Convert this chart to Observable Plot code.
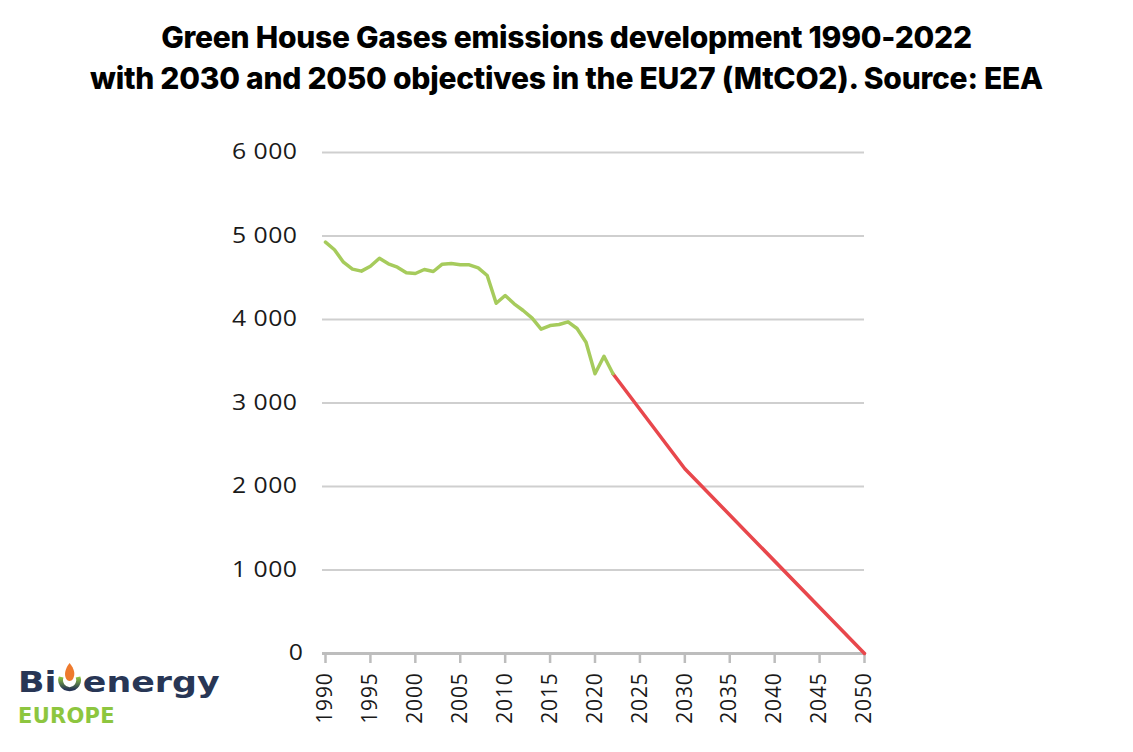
<!DOCTYPE html>
<html>
<head>
<meta charset="utf-8">
<script src="https://cdn.jsdelivr.net/npm/d3@7"></script>
<script src="https://cdn.jsdelivr.net/npm/@observablehq/plot@0.6"></script>
<style>
  html, body { margin: 0; padding: 0; background: #fff; width: 1133px; height: 752px; overflow: hidden; }
  #title { position: absolute; left: 0; top: 0; width: 1133px; font-family: Inter, "DejaVu Sans", sans-serif; font-weight: 800; font-size: 30px; line-height: 41px; text-align: center; color: #000; padding-top: 17px; letter-spacing: -0.25px; }
  #chart { position: absolute; left: 0; top: 110px; }
  #logo { position: absolute; left: 18px; top: 662px; font-family: "DejaVu Sans", sans-serif; font-weight: bold; }
  #logo .main { font-size: 29px; color: #283655; line-height: 36px; letter-spacing: 0px; white-space: nowrap; transform: scaleX(1.2); transform-origin: 0 0; }
  #logo .sub { font-size: 21px; color: #8dc63f; line-height: 22px; letter-spacing: 0.3px; margin-top: 5px; }
</style>
</head>
<body>
<div id="title">Green House Gases emissions development 1990-2022<br>with 2030 and 2050 objectives in the EU27 (MtCO2). Source: EEA</div>
<div id="chart"></div>
<div id="logo">
  <div class="main">Bi<svg width="20" height="32" viewBox="0 0 20 32" style="vertical-align:-2px;margin:0 1px"><defs><linearGradient id="ring" x1="0" y1="0" x2="0" y2="1"><stop offset="0" stop-color="#8dc63f"/><stop offset="1" stop-color="#283655"/></linearGradient></defs><path d="M3 15 A7.5 9 0 1 0 17 15" fill="none" stroke="url(#ring)" stroke-width="4"/><path d="M10 1 C14 7 15 12 12.8 17 C11.5 19.5 8.5 19.5 7.2 17 C5 12 6.5 6.5 10 1 Z" fill="#ee7a2d"/></svg>energy</div>
  <div class="sub">EUROPE</div>
</div>
<script>
const years = [1990,1991,1992,1993,1994,1995,1996,1997,1998,1999,2000,2001,2002,2003,2004,2005,2006,2007,2008,2009,2010,2011,2012,2013,2014,2015,2016,2017,2018,2019,2020,2021,2022];
const emissions = [4926,4835,4686,4603,4579,4638,4734,4667,4627,4559,4551,4599,4575,4662,4671,4655,4655,4619,4527,4195,4287,4188,4108,4016,3884,3928,3940,3972,3892,3728,3350,3560,3350];
const targetYears = [2022, 2030, 2050];
const targetValues = [3350, 2212, 0];
const yTicks = [0,1000,2000,3000,4000,5000,6000];
const xTicks = [1990,1995,2000,2005,2010,2015,2020,2025,2030,2035,2040,2045,2050];

const history = years.map((y, i) => ({year: y, value: emissions[i]}));
const target = targetYears.map((y, i) => ({year: y, value: targetValues[i]}));
const fmtSpace = d => d3.format(",")(d).replace(",", " ");

const chart = Plot.plot({
  width: 1133,
  height: 642,
  marginLeft: 325,
  marginRight: 269,
  marginTop: 42,
  marginBottom: 99,
  style: {fontFamily: "'Open Sans', sans-serif", color: "#1a1a1a", background: "transparent", overflow: "visible"},
  x: {domain: [1990, 2050], ticks: xTicks, label: null},
  y: {domain: [0, 6000], ticks: yTicks, label: null},
  marks: [
    Plot.gridY(yTicks.filter(d => d > 0), {stroke: "#cfcfcf", strokeOpacity: 1, strokeWidth: 2, insetLeft: -3}),
    Plot.ruleY([0], {stroke: "#bdbdbd", strokeWidth: 3, insetLeft: -3}),
    Plot.axisY(yTicks.filter(d => d > 0), {tickSize: 0, tickPadding: 28, tickFormat: fmtSpace, fontSize: 21, fill: "#1a1a1a", label: null}),
    Plot.axisY([0], {tickSize: 0, tickPadding: 22, tickFormat: fmtSpace, fontSize: 21, fill: "#1a1a1a", label: null}),
    Plot.axisX(xTicks, {tickSize: 10, tickRotate: -90, tickPadding: 9, tickFormat: d => String(d), fontSize: 21, fill: "#1a1a1a", stroke: "#bdbdbd", strokeWidth: 2.5, label: null}),
    Plot.line(target, {x: "year", y: "value", stroke: "#e8474c", strokeWidth: 3.5}),
    Plot.line(history, {x: "year", y: "value", stroke: "#a6cb5c", strokeWidth: 3.5})
  ]
});
d3.select(chart).selectAll('g[aria-label="y-axis tick label"] text').each(function() {
  const t = d3.select(this);
  const x = +t.attr("x") || 0;
  const tr = t.attr("transform") || "";
  t.attr("x", null)
   .attr("transform", `${tr} translate(${x},0) scale(1.18,1)`)
   .style("letter-spacing", "0.4px");
});
d3.select(chart).selectAll('g[aria-label="x-axis tick label"] text').style("letter-spacing", "0.8px");
document.getElementById("chart").appendChild(chart);
</script>
</body>
</html>
